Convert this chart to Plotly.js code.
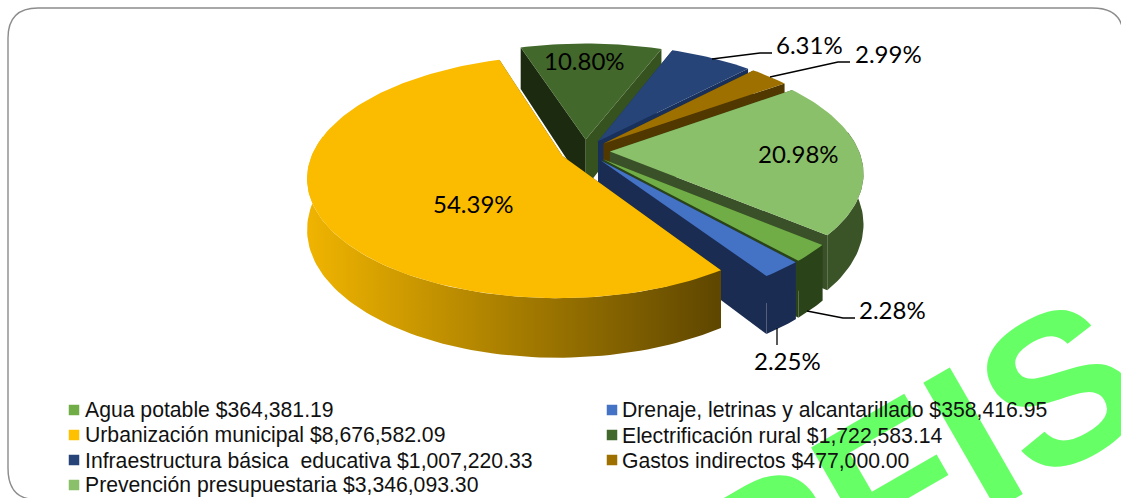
<!DOCTYPE html>
<html><head><meta charset="utf-8">
<script src="https://cdn.plot.ly/plotly-3.0.1.min.js"></script>
<style>html,body{margin:0;padding:0;background:#fff}#c{width:1121px;height:498px}</style>
</head><body><div id="c"></div>
<script>
// Data
const categories = ["Agua potable","Drenaje, letrinas y alcantarillado","Urbanización municipal","Electrificación rural","Infraestructura básica  educativa","Gastos indirectos","Prevención presupuestaria"];
const amounts = [364381.19,358416.95,8676582.09,1722583.14,1007220.33,477000.00,3346093.30];
const amountLabels = ["$364,381.19","$358,416.95","$8,676,582.09","$1,722,583.14","$1,007,220.33","$477,000.00","$3,346,093.30"];
const topColors = ["#70AD47","#4472C4","#FBBC00","#43682B","#264478","#9E7000","#8BC06A"];
const legendColors = ["#70AD47","#4472C4","#FFC000","#43682B","#264478","#9E7000","#8BC06A"];
const startWall = ["#2A4318","#1A2C52","#5E4600","#1C2B10","#19305A","#503800","#3A5028"]; // wall at the slice's first cut
const endWall   = ["#2A4318","#1A2C52","#5E4600","#35521F","#19305A","#503800","#3A5028"]; // wall at the slice's last cut
const arcGrad = [["#2A4318","#2A4318"],["#1A2C52","#1A2C52"],["#F0B400","#5E4600"],["#35521F","#35521F"],["#19305A","#19305A"],["#503800","#503800"],["#3A5428","#3A5428"]];
const drawOrder = [3,4,5,6,0,1,2];
const firstAngle = 130;

// Pseudo-3D projection settings
const Cx=585, Cy=151, A=249, B=116, D=49, K=0.17, EXPLODE=0.1;
const project=(u,v,z)=>{const s=1/(1-K*v);return [Cx+A*u*s, Cy+(B*v+D*z)*s];};
const total=amounts.reduce((a,b)=>a+b,0);
const rad=d=>d*Math.PI/180;

const traces=[];
function poly(pts,color,grad){
  const t={x:pts.map(p=>p[0]),y:pts.map(p=>p[1]),type:'scatter',mode:'lines',fill:'toself',
    line:{width:0,color:color},fillcolor:color,hoverinfo:'skip',showlegend:false};
  if(grad){t.fillgradient={type:'horizontal',colorscale:[[0,grad[0]],[1,grad[1]]]};delete t.fillcolor;}
  traces.push(t);
}
let cum=firstAngle;
const spans=amounts.map(v=>{const w=v/total*360;const a0=cum%360;cum+=w;return [a0,a0+w];});
function drawSlice(i){
  const [a0,a1]=spans[i], mid=rad((a0+a1)/2);
  const ox=EXPLODE*Math.sin(mid), oy=-EXPLODE*Math.cos(mid);
  const P=(a,r,z)=>project(ox+r*Math.sin(rad(a)),oy-r*Math.cos(rad(a)),z);
  const arc=(from,to,z,rev)=>{const o=[];const n=Math.max(8,Math.ceil((to-from)/1.5));
    for(let j=0;j<=n;j++){const f=(rev?n-j:j)/n;o.push(P(from+(to-from)*f,1,z));}return o;};
  poly([P(0,0,0),P(a0,1,0),P(a0,1,1),P(0,0,1)],startWall[i]);
  poly([P(0,0,0),P(a1,1,0),P(a1,1,1),P(0,0,1)],endWall[i]);
  // Only the part of the rim that faces the viewer is drawn
  const f0=Math.max(a0,80), f1=Math.min(a1,280);
  if(f1>f0) poly(arc(f0,f1,0,false).concat(arc(f0,f1,1,true)),arcGrad[i][0],arcGrad[i]);
  poly([P(0,0,0)].concat(arc(a0,a1,0,false)),topColors[i]);
}
drawOrder.forEach(drawSlice);

// Legend swatches
const legendCols=[74,612], legendRows=[410,435,460,485], legendTextX=[83,620];
const legendCol=i=>i%2, legendRow=i=>Math.floor(i/2);
traces.push({type:'scatter',mode:'markers',hoverinfo:'skip',showlegend:false,
  x:categories.map((_,i)=>legendCols[legendCol(i)]),
  y:categories.map((_,i)=>legendRows[legendRow(i)]),
  marker:{symbol:'square',size:10.5,color:legendColors,line:{width:0}}});

// Data labels
const pct=amounts.map(v=>(v/total*100).toFixed(2)+"%");
const labelAt=[[892,309],[787,360],[473,203],[584,60],[809,44],[888,53],[798,153]];
const labelFont={family:'Lato, "Open Sans", sans-serif',size:24,color:'#000'};
const annotations=[];
// Watermark first so that the legend text sits on top of it
annotations.push({xref:'paper',yref:'paper',x:845/1121,y:1-511/498,text:'<b>OPFIS</b>',showarrow:false,textangle:-30,
  font:{family:'"Liberation Sans Narrow","Liberation Sans",Arial,sans-serif',size:212,color:'#66FF66'},xanchor:'center',yanchor:'middle'});
pct.forEach((t,i)=>annotations.push({xref:'x',yref:'y',x:labelAt[i][0],y:labelAt[i][1],text:t,showarrow:false,font:labelFont,xanchor:'center',yanchor:'middle'}));
categories.forEach((c,i)=>annotations.push({xref:'x',yref:'y',x:legendTextX[legendCol(i)],y:legendRows[legendRow(i)],
  text:c.replace(/  /g,'\u00A0 ')+' '+amountLabels[i],showarrow:false,xanchor:'left',yanchor:'middle',
  font:{family:'"Liberation Sans",Arial,sans-serif',size:21.2,color:'#111'}}));

const leader=d=>({type:'path',path:d,line:{color:'#000',width:1.3},xref:'x',yref:'y',layer:'above'});
const shapes=[
  leader('M712,59 L760,53 L772,53'),
  leader('M770,77 L838,62 L850,62'),
  leader('M807,311 L843,318 L855,318'),
  leader('M777,328 L777,345'),
  {type:'path',xref:'x',yref:'y',layer:'below',line:{color:'#8C8C8C',width:1.4},
   path:'M1123,32 Q1121,8 1092,8 L38,8 Q8,8 8,38 L8,468 Q8,496 30,499'}
];
Plotly.newPlot('c',traces,{
  width:1121,height:498,margin:{l:0,r:0,t:0,b:0},paper_bgcolor:'#fff',plot_bgcolor:'#fff',showlegend:false,
  xaxis:{range:[0,1121],visible:false,fixedrange:true},
  yaxis:{range:[498,0],visible:false,fixedrange:true},
  annotations,shapes
},{displayModeBar:false,staticPlot:true});
</script></body></html>
